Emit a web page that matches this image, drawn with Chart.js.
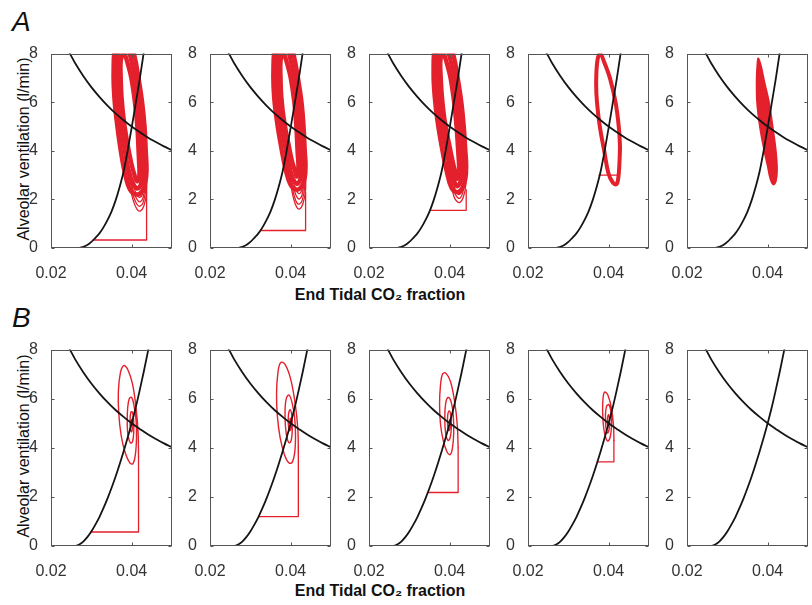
<!DOCTYPE html>
<html>
<head>
<meta charset="utf-8">
<script src="https://cdn.jsdelivr.net/npm/chart.js@4.4.0/dist/chart.umd.min.js"></script>
<style>
  body { margin: 0; background: #fff; }
  #fig { position: relative; width: 812px; height: 605px; overflow: hidden; font-family: "Liberation Sans", Arial, sans-serif; }
  #fig canvas { position: absolute; }
  .tag { position: absolute; font-size: 28px; line-height: 28px; font-style: italic; color: #111; }
  .xt { position: absolute; width: 300px; text-align: center; font-size: 16px; line-height: 16px; font-weight: bold; color: #111; }
  .yt { position: absolute; width: 220px; height: 16px; text-align: center; font-size: 16px; line-height: 16px; color: #111; transform: rotate(-90deg); }
</style>
</head>
<body>
<div id="fig">
  <div class="tag" style="left:12px; top:8px;">A</div>
  <div class="tag" style="left:12px; top:304px;">B</div>
  <div class="yt" style="left:-86px; top:141px;">Alveolar ventilation (l/min)</div>
  <div class="yt" style="left:-86px; top:438px;">Alveolar ventilation (l/min)</div>
  <div class="xt" style="left:230px; top:287px;">End Tidal CO₂ fraction</div>
  <div class="xt" style="left:230px; top:583px;">End Tidal CO₂ fraction</div>
</div>
<script>
// axis ticks
const X_TICKS = [0.02, 0.04];
const Y_TICKS = [0, 2, 4, 6, 8];

// black curves: [CO2 fraction, ventilation]
const plantCurve = [[0.0245, 8.06], [0.026, 7.6], [0.028, 7.08], [0.030, 6.62], [0.032, 6.22], [0.034, 5.86], [0.036, 5.54],
  [0.038, 5.26], [0.040, 5.0], [0.042, 4.77], [0.044, 4.55], [0.046, 4.36], [0.048, 4.18], [0.050, 4.02]];
const controllerA = [[0.020, 0], [0.024, 0], [0.027, 0], [0.028, 0.05], [0.029, 0.12], [0.030, 0.25], [0.031, 0.42],
  [0.032, 0.6], [0.033, 0.85], [0.034, 1.15], [0.035, 1.5], [0.036, 1.95], [0.037, 2.5], [0.038, 3.15],
  [0.039, 4.0], [0.040, 4.95], [0.041, 5.95], [0.042, 6.95], [0.043, 8.05], [0.0435, 8.6]];
const controllerB = [[0.020, 0], [0.025, 0], [0.026, 0], [0.027, 0.06], [0.028, 0.18], [0.029, 0.36], [0.030, 0.59],
  [0.031, 0.87], [0.032, 1.18], [0.033, 1.54], [0.034, 1.93], [0.035, 2.36], [0.036, 2.82], [0.037, 3.32],
  [0.038, 3.85], [0.039, 4.41], [0.040, 5.0], [0.041, 5.64], [0.042, 6.35], [0.043, 7.1], [0.044, 7.9], [0.045, 8.7]];

// row A: initial step, limit-cycle band (outer / middle / inner strand) and transient loops
const a1Step = [[0.0304, 0.33], [0.0437, 0.33], [0.0437, 2.3]];
const a1Band = [
  [[0.0437, 3.2], [0.0435, 4.0], [0.0432, 5.0], [0.0426, 6.0], [0.0417, 7.0], [0.0407, 7.9], [0.0394, 8.6], [0.0376, 8.8],
   [0.0360, 8.4], [0.0355, 7.2], [0.0357, 6.2], [0.0363, 5.2], [0.0372, 4.1], [0.0383, 3.1], [0.0396, 2.4], [0.0413, 2.2],
   [0.0426, 2.35], [0.0434, 2.7], [0.0437, 3.2], [0.0435, 4.0]],
  [[0.0428, 3.2], [0.0426, 4.0], [0.0423, 5.0], [0.0417, 6.0], [0.0408, 7.0], [0.0398, 7.8], [0.0388, 8.3], [0.0376, 8.4],
   [0.0366, 8.0], [0.0364, 7.2], [0.0366, 6.2], [0.0372, 5.2], [0.0381, 4.2], [0.0391, 3.3], [0.0402, 2.7], [0.0413, 2.45],
   [0.0421, 2.55], [0.0426, 2.8], [0.0428, 3.2], [0.0426, 4.0]],
  [[0.0419, 3.3], [0.0417, 4.0], [0.0414, 5.0], [0.0408, 6.0], [0.0399, 7.0], [0.0390, 7.6], [0.0383, 7.95], [0.0378, 8.0],
   [0.0373, 7.7], [0.0373, 7.0], [0.0375, 6.2], [0.0381, 5.2], [0.0390, 4.25], [0.0399, 3.5], [0.0407, 3.0], [0.0413, 2.75],
   [0.0417, 2.8], [0.0419, 3.0], [0.0419, 3.3], [0.0417, 4.0]],
];
const a1Loops = [
  [[0.0384, 3.6], [0.0394, 2.7], [0.0403, 2.0], [0.0413, 1.6], [0.0421, 1.52], [0.0430, 1.72], [0.0437, 2.3], [0.0436, 3.4]],
  [[0.0386, 3.5], [0.0396, 2.75], [0.0404, 2.15], [0.0413, 1.8], [0.0421, 1.72], [0.0429, 1.9], [0.0435, 2.45], [0.0435, 3.4]],
  [[0.0388, 3.4], [0.0397, 2.8], [0.0405, 2.3], [0.0414, 1.98], [0.0421, 1.9], [0.0428, 2.06], [0.0434, 2.6], [0.0434, 3.4]],
  [[0.0390, 3.3], [0.0398, 2.85], [0.0406, 2.45], [0.0414, 2.16], [0.0421, 2.09], [0.0427, 2.22], [0.0432, 2.7], [0.0433, 3.4]],
];

const a2Step = [[0.0325, 0.72], [0.0437, 0.72], [0.0437, 2.3]];
const a2Band = [
  [[0.0437, 3.4], [0.0435, 4.0], [0.0432, 5.0], [0.0427, 6.0], [0.0418, 7.0], [0.0408, 7.9], [0.0395, 8.6], [0.0377, 8.8],
   [0.0362, 8.4], [0.0357, 7.2], [0.0359, 6.2], [0.0366, 5.2], [0.0377, 4.1], [0.0388, 3.2], [0.0400, 2.6], [0.0415, 2.4],
   [0.0428, 2.55], [0.0435, 2.9], [0.0437, 3.4], [0.0435, 4.0]],
  [[0.0428, 3.4], [0.0426, 4.0], [0.0423, 5.0], [0.0418, 6.0], [0.0409, 7.0], [0.0399, 7.8], [0.0389, 8.3], [0.0377, 8.4],
   [0.0368, 8.0], [0.0366, 7.2], [0.0368, 6.2], [0.0375, 5.2], [0.0386, 4.2], [0.0396, 3.4], [0.0406, 2.85], [0.0415, 2.65],
   [0.0422, 2.75], [0.0426, 3.0], [0.0428, 3.4], [0.0426, 4.0]],
  [[0.0419, 3.5], [0.0417, 4.0], [0.0414, 5.0], [0.0409, 6.0], [0.0400, 7.0], [0.0391, 7.6], [0.0384, 7.95], [0.0379, 8.0],
   [0.0375, 7.7], [0.0375, 7.0], [0.0377, 6.2], [0.0384, 5.2], [0.0395, 4.25], [0.0403, 3.6], [0.0411, 3.15], [0.0415, 2.95],
   [0.0418, 3.0], [0.0419, 3.2], [0.0419, 3.5], [0.0417, 4.0]],
];
const a2Loops = [
  [[0.0388, 3.6], [0.0398, 2.8], [0.0407, 2.05], [0.0415, 1.68], [0.0422, 1.61], [0.0430, 1.8], [0.0437, 2.4], [0.0436, 3.4]],
  [[0.0389, 3.55], [0.0399, 2.85], [0.0408, 2.2], [0.0415, 1.87], [0.0422, 1.81], [0.0429, 1.98], [0.0435, 2.55], [0.0435, 3.4]],
  [[0.0390, 3.5], [0.0400, 2.9], [0.0409, 2.38], [0.0416, 2.08], [0.0422, 2.02], [0.0428, 2.17], [0.0433, 2.7], [0.0434, 3.4]],
  [[0.0391, 3.45], [0.0401, 2.95], [0.0410, 2.55], [0.0416, 2.3], [0.0422, 2.24], [0.0427, 2.36], [0.0432, 2.8], [0.0433, 3.4]],
];

const a3Step = [[0.0351, 1.55], [0.0441, 1.55], [0.0441, 2.4]];
const a3Band = [
  [[0.0441, 3.4], [0.0439, 4.0], [0.0435, 5.0], [0.0429, 6.0], [0.0420, 7.0], [0.0410, 7.9], [0.0396, 8.6], [0.0378, 8.8],
   [0.0364, 8.4], [0.0360, 7.2], [0.0363, 6.2], [0.0370, 5.2], [0.0381, 4.1], [0.0392, 3.2], [0.0404, 2.5], [0.0418, 2.3],
   [0.0431, 2.45], [0.0439, 2.85], [0.0441, 3.4], [0.0439, 4.0]],
  [[0.0432, 3.4], [0.0430, 4.0], [0.0426, 5.0], [0.0420, 6.0], [0.0411, 7.0], [0.0401, 7.8], [0.0390, 8.3], [0.0378, 8.4],
   [0.0370, 8.0], [0.0369, 7.2], [0.0372, 6.2], [0.0379, 5.2], [0.0390, 4.2], [0.0400, 3.4], [0.0410, 2.8], [0.0418, 2.55],
   [0.0425, 2.65], [0.0430, 2.95], [0.0432, 3.4], [0.0430, 4.0]],
  [[0.0423, 3.5], [0.0421, 4.0], [0.0417, 5.0], [0.0411, 6.0], [0.0402, 7.0], [0.0393, 7.6], [0.0386, 7.95], [0.0381, 8.0],
   [0.0377, 7.7], [0.0378, 7.0], [0.0381, 6.2], [0.0388, 5.2], [0.0399, 4.25], [0.0407, 3.6], [0.0414, 3.1], [0.0418, 2.85],
   [0.0421, 2.9], [0.0423, 3.1], [0.0423, 3.5], [0.0421, 4.0]],
];
const a3Loops = [
  [[0.0394, 3.5], [0.0403, 2.7], [0.0411, 2.1], [0.0419, 1.9], [0.0426, 1.88], [0.0434, 2.1], [0.0440, 2.6], [0.0439, 3.4]],
  [[0.0396, 3.4], [0.0405, 2.75], [0.0413, 2.25], [0.0420, 2.07], [0.0426, 2.06], [0.0432, 2.25], [0.0437, 2.7], [0.0437, 3.4]],
  [[0.0398, 3.3], [0.0407, 2.8], [0.0414, 2.4], [0.0420, 2.22], [0.0426, 2.22], [0.0431, 2.38], [0.0435, 2.8], [0.0436, 3.4]],
];

const a4Step = [[0.0376, 3.0], [0.0425, 3.0], [0.0425, 3.3]];
const a4Loop = [[0.0427, 3.6], [0.0428, 4.2], [0.0425, 5.0], [0.0417, 6.0], [0.0403, 7.0], [0.0390, 7.6], [0.0379, 8.0],
  [0.0372, 7.7], [0.0369, 6.8], [0.0371, 6.0], [0.0378, 5.0], [0.0389, 4.0], [0.0399, 3.1], [0.0410, 2.7],
  [0.0419, 2.62], [0.0424, 2.9], [0.0427, 3.6], [0.0428, 4.2]];

const a5Blob = [[0.0377, 7.8], [0.0383, 7.5], [0.0392, 6.8], [0.0403, 6.0], [0.0412, 5.0], [0.0420, 4.0], [0.0423, 3.2],
  [0.0420, 2.75], [0.0414, 2.62], [0.0407, 2.85], [0.0400, 3.4], [0.0392, 4.0], [0.0381, 5.0], [0.0374, 6.0],
  [0.0373, 7.0], [0.0375, 7.6], [0.0377, 7.8], [0.0383, 7.5]];

// row B: initial step and damped spiral
const b1Step = [[0.0298, 0.57], [0.0417, 0.57], [0.0417, 3.6]];
const b1Spiral = [[0.0417, 3.6], [0.0416, 4.6], [0.0411, 5.6], [0.0402, 6.6], [0.0390, 7.2], [0.0380, 7.35], [0.0372, 7.05],
  [0.0367, 6.3], [0.0368, 5.4], [0.0374, 4.5], [0.0384, 3.8], [0.0395, 3.4], [0.0403, 3.35], [0.0409, 3.7],
  [0.0412, 4.4], [0.0411, 5.1], [0.0406, 5.7], [0.0400, 6.05], [0.0394, 6.0], [0.0390, 5.6], [0.0389, 5.0],
  [0.0391, 4.5], [0.0397, 4.2], [0.0402, 4.25], [0.0405, 4.6], [0.0405, 5.1], [0.0402, 5.45], [0.0398, 5.45],
  [0.0396, 5.1], [0.0397, 4.75], [0.0400, 4.65], [0.0402, 4.9], [0.0401, 5.15], [0.0399, 5.1], [0.0399, 4.95]];

const b2Step = [[0.0322, 1.2], [0.0419, 1.2], [0.0419, 3.8]];
const b2Spiral = [[0.0419, 3.8], [0.0418, 4.7], [0.0412, 5.7], [0.0400, 6.8], [0.0386, 7.4], [0.0375, 7.47], [0.0368, 7.0],
  [0.0365, 6.2], [0.0367, 5.3], [0.0374, 4.4], [0.0385, 3.7], [0.0396, 3.38], [0.0404, 3.42], [0.0410, 3.8],
  [0.0412, 4.5], [0.0410, 5.2], [0.0404, 5.8], [0.0396, 6.15], [0.0389, 6.0], [0.0386, 5.5], [0.0387, 4.9],
  [0.0391, 4.4], [0.0397, 4.2], [0.0402, 4.35], [0.0404, 4.8], [0.0403, 5.3], [0.0399, 5.55], [0.0395, 5.4],
  [0.0394, 5.0], [0.0397, 4.7], [0.0400, 4.75], [0.0401, 5.05], [0.0399, 5.2], [0.0398, 5.0]];

const b3Step = [[0.0345, 2.18], [0.0421, 2.18], [0.0421, 4.0]];
const b3Spiral = [[0.0421, 4.0], [0.0419, 4.9], [0.0413, 5.8], [0.0402, 6.7], [0.0390, 7.05], [0.0382, 7.0], [0.0377, 6.5],
  [0.0375, 5.8], [0.0377, 5.0], [0.0384, 4.3], [0.0393, 3.85], [0.0401, 3.72], [0.0407, 4.0], [0.0410, 4.6],
  [0.0409, 5.3], [0.0404, 5.85], [0.0396, 6.05], [0.0390, 5.8], [0.0388, 5.2], [0.0390, 4.6], [0.0396, 4.3],
  [0.0401, 4.4], [0.0404, 4.8], [0.0403, 5.3], [0.0399, 5.5], [0.0395, 5.3], [0.0395, 4.9], [0.0398, 4.7],
  [0.0401, 4.85], [0.0401, 5.15], [0.0399, 5.1]];

const b4Step = [[0.0372, 3.43], [0.0413, 3.43], [0.0413, 4.3]];
const b4Spiral = [[0.0413, 4.3], [0.0412, 4.9], [0.0407, 5.6], [0.0398, 6.15], [0.0390, 6.27], [0.0386, 6.0], [0.0385, 5.5],
  [0.0387, 4.9], [0.0392, 4.45], [0.0398, 4.28], [0.0404, 4.45], [0.0407, 4.9], [0.0406, 5.4], [0.0401, 5.75],
  [0.0395, 5.7], [0.0392, 5.3], [0.0393, 4.85], [0.0397, 4.6], [0.0401, 4.75], [0.0402, 5.1], [0.0400, 5.35],
  [0.0397, 5.2], [0.0397, 4.95], [0.0400, 4.9], [0.0400, 5.05]];

// layout (pixels)
const BOX_LEFT = [51, 210, 369, 528, 687];
const BOX_TOP = [51, 347];
const BOX_W = 121;
const BOX_H = [197, 199];
const PAD_L = 50, PAD_T = 12, PAD_R = 8, PAD_B = 35;

const RED = '#e3202c';
const BLACK = '#151515';
const TICK_FONT = { family: '"Liberation Sans", Arial, sans-serif', size: 16 };

const panels = [
  { row: 0, col: 0, ctrl: controllerA, step: a1Step, band: a1Band, loops: a1Loops },
  { row: 0, col: 1, ctrl: controllerA, step: a2Step, band: a2Band, loops: a2Loops },
  { row: 0, col: 2, ctrl: controllerA, step: a3Step, band: a3Band, loops: a3Loops },
  { row: 0, col: 3, ctrl: controllerA, step: a4Step, ring: a4Loop },
  { row: 0, col: 4, ctrl: controllerA, blob: a5Blob },
  { row: 1, col: 0, ctrl: controllerB, step: b1Step, spiral: b1Spiral },
  { row: 1, col: 1, ctrl: controllerB, step: b2Step, spiral: b2Spiral },
  { row: 1, col: 2, ctrl: controllerB, step: b3Step, spiral: b3Spiral },
  { row: 1, col: 3, ctrl: controllerB, step: b4Step, spiral: b4Spiral },
  { row: 1, col: 4, ctrl: controllerB },
];

// box round the plot area with small inward ticks, like the original
const framePlugin = {
  id: 'frame',
  afterDraw(chart) {
    const { ctx, chartArea: a, scales: { x, y } } = chart;
    const l = Math.round(a.left) + 0.5, t = Math.round(a.top) + 0.5;
    const r = Math.round(a.right) - 0.5, b = Math.round(a.bottom) - 0.5;
    ctx.save();
    ctx.strokeStyle = '#555';
    ctx.lineWidth = 1;
    ctx.strokeRect(l, t, r - l, b - t);
    ctx.beginPath();
    X_TICKS.forEach(v => {
      const px = Math.round(x.getPixelForValue(v)) + 0.5;
      ctx.moveTo(px, b); ctx.lineTo(px, b - 3);
      ctx.moveTo(px, t); ctx.lineTo(px, t + 3);
    });
    Y_TICKS.forEach(v => {
      const py = Math.round(y.getPixelForValue(v)) + 0.5;
      ctx.moveTo(l, py); ctx.lineTo(l + 3, py);
      ctx.moveTo(r, py); ctx.lineTo(r - 3, py);
    });
    ctx.stroke();
    ctx.restore();
  }
};

function redLine(data, width, tension, order) {
  return {
    data, borderColor: RED, borderWidth: width, tension, order, clip: 0,
    borderJoinStyle: 'round', borderCapStyle: 'round', fill: false,
  };
}

function buildDatasets(p) {
  const ds = [
    { data: plantCurve, borderColor: BLACK, borderWidth: 1.8, cubicInterpolationMode: 'monotone', order: 0, clip: 0, fill: false },
    { data: p.ctrl, borderColor: BLACK, borderWidth: 1.8, cubicInterpolationMode: 'monotone', order: 0, clip: 0, fill: false },
  ];
  if (p.band) p.band.forEach(s => ds.push(redLine(s, 4.4, 0.4, 2)));
  if (p.loops) p.loops.forEach(u => ds.push(redLine(u, 1.3, 0.4, 3)));
  if (p.ring) ds.push(redLine(p.ring, 4, 0.4, 2));
  if (p.spiral) ds.push(redLine(p.spiral, 1.4, 0.4, 2));
  if (p.step) ds.push(redLine(p.step, 1.3, 0, 3));
  if (p.blob) {
    const d = redLine(p.blob, 2, 0.4, 2);
    d.fill = 'shape';
    d.backgroundColor = RED;
    ds.push(d);
  }
  return ds;
}

const fig = document.getElementById('fig');

panels.forEach(p => {
  const h = BOX_H[p.row];
  const canvas = document.createElement('canvas');
  canvas.width = BOX_W + PAD_L + PAD_R;
  canvas.height = h + PAD_T + PAD_B;
  canvas.style.left = (BOX_LEFT[p.col] - PAD_L) + 'px';
  canvas.style.top = (BOX_TOP[p.row] - PAD_T) + 'px';
  fig.appendChild(canvas);

  new Chart(canvas, {
    type: 'line',
    data: { datasets: buildDatasets(p) },
    plugins: [framePlugin],
    options: {
      responsive: false,
      animation: false,
      devicePixelRatio: 1,
      layout: { padding: { top: PAD_T, right: PAD_R, left: 0, bottom: 0 } },
      elements: { point: { radius: 0 }, line: { capBezierPoints: false } },
      plugins: { legend: { display: false }, tooltip: { enabled: false } },
      scales: {
        x: {
          type: 'linear', min: 0.02, max: 0.05,
          grid: { display: false }, border: { display: false },
          afterBuildTicks: s => { s.ticks = X_TICKS.map(v => ({ value: v })); },
          afterFit: s => { s.height = PAD_B; },
          ticks: { padding: 8, color: '#333', font: TICK_FONT, maxRotation: 0, autoSkip: false, callback: v => v.toFixed(2) },
        },
        y: {
          type: 'linear', min: 0, max: 8,
          grid: { display: false }, border: { display: false },
          afterBuildTicks: s => { s.ticks = Y_TICKS.map(v => ({ value: v })); },
          afterFit: s => { s.width = PAD_L; },
          ticks: { padding: 5, color: '#333', font: TICK_FONT, autoSkip: false, callback: v => String(v) },
        },
      },
    },
  });
});
</script>
</body>
</html>
